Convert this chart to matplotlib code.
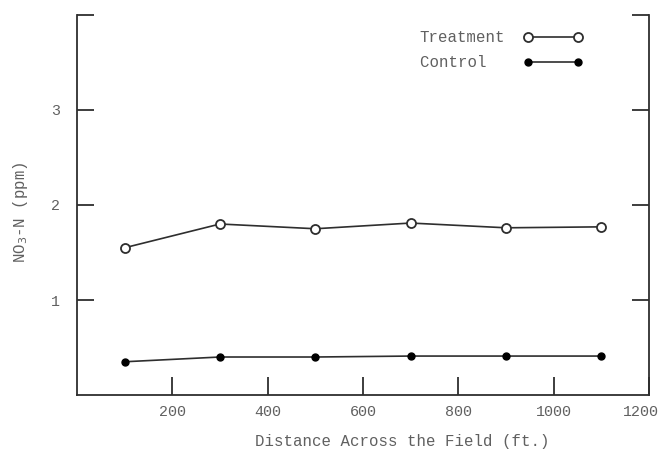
import matplotlib
matplotlib.use("Agg")
from matplotlib import pyplot as plt
from matplotlib.lines import Line2D
from matplotlib.transforms import ScaledTranslation

distance = [100, 300, 500, 700, 900, 1100]
treatment = [1.55, 1.80, 1.75, 1.81, 1.76, 1.77]
control = [0.35, 0.40, 0.40, 0.41, 0.41, 0.41]
x_ticks = [200, 400, 600, 800, 1000, 1200]
y_ticks = [1, 2, 3, 4]
y_labels = ["1", "2", "3", ""]

ink = "#2e2e2e"
text_col = "#606060"
plt.rcParams["font.family"] = ["Liberation Mono", "DejaVu Sans Mono"]
plt.rcParams["font.size"] = 11.3

fig = plt.figure(figsize=(6.61, 4.5), dpi=100)
ax = fig.add_axes([0.1165, 0.1222, 0.8653, 0.8445])

ax.plot(distance, treatment, color=ink, lw=1.2, marker="o", ms=6.5,
        mfc="white", mec=ink, mew=1.3)
ax.plot(distance, control, color=ink, lw=1.2, marker="o", ms=5,
        mfc="black", mec="black")

ax.set_xlim(0, 1200)
ax.set_ylim(0, 4)
ax.set_xticks(x_ticks)
ax.set_yticks(y_ticks)
ax.set_yticklabels(y_labels)

ax.spines["top"].set_visible(False)
for s in ["left", "right", "bottom"]:
    ax.spines[s].set_color(ink)
    ax.spines[s].set_linewidth(1.3)

ax.tick_params(axis="y", direction="in", length=12, width=1.3, color=ink,
               right=True, pad=12, labelcolor=text_col, labelsize=10.8)
ax.tick_params(axis="x", direction="in", length=13, width=1.3, color=ink,
               pad=7, labelcolor=text_col, labelsize=10.8)

# last x label sits a little inside the corner, as in the original
last = ax.get_xticklabels()[-1]
last.set_transform(last.get_transform() + ScaledTranslation(-8 / 100, 0, fig.dpi_scale_trans))

ax.set_xlabel("Distance Across the Field (ft.)", color=text_col)
ax.xaxis.set_label_coords(0.568, -0.102)
ax.set_ylabel("NO$_3$-N (ppm)", color=text_col)
ax.yaxis.set_label_coords(-0.082, 0.48)

handles = [
    Line2D([], [], color=ink, lw=1.2, marker="o", ms=6.5, mfc="white",
           mec=ink, mew=1.3),
    Line2D([], [], color=ink, lw=1.2, marker="o", ms=5, mfc="black",
           mec="black"),
]
leg = ax.legend(handles, ["Treatment", "Control  "], loc="upper right",
                bbox_to_anchor=(0.909, 0.997), frameon=False, numpoints=2,
                markerfirst=False, handlelength=3.8, handletextpad=1.15,
                labelspacing=0.65)
for t in leg.get_texts():
    t.set_color(text_col)

fig.savefig("out.png", dpi=100)
